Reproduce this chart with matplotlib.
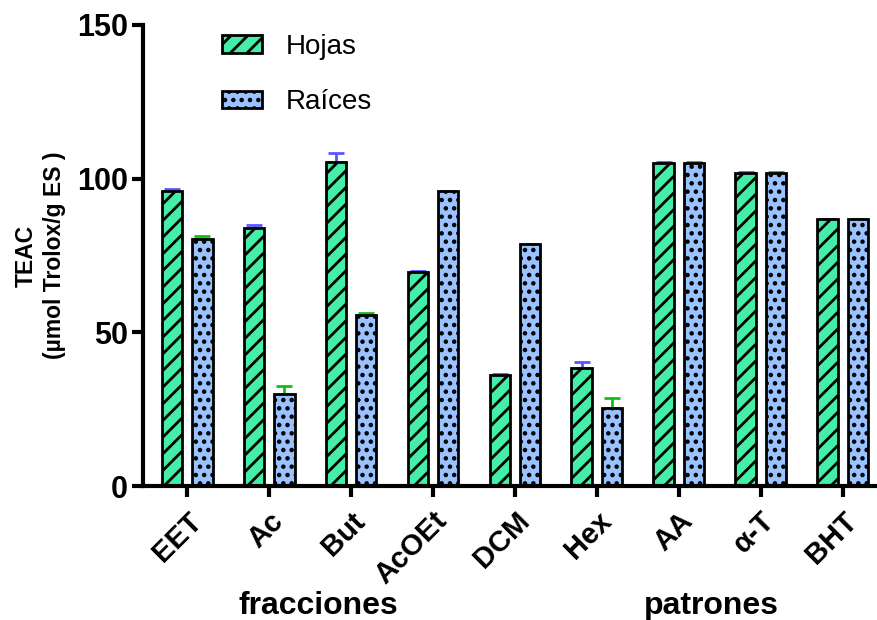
import matplotlib
matplotlib.use("Agg")
import matplotlib.pyplot as plt
import numpy as np

categories = ["EET", "Ac", "But", "AcOEt", "DCM", "Hex", "AA", "α-T", "BHT"]
hojas = [96.0, 84.0, 105.5, 69.5, 36.0, 38.5, 105.0, 101.8, 87.0]
hojas_err = [0.5, 1.0, 3.0, 0.5, 0.4, 1.8, 0.4, 0.4, 0.0]
raices = [80.5, 30.0, 55.6, 96.0, 78.8, 25.5, 105.0, 101.8, 87.0]
raices_err = [1.0, 2.5, 0.6, 0.0, 0.0, 3.0, 0.4, 0.4, 0.0]
group_labels = ["fracciones", "patrones"]

plt.rcParams['font.family'] = ['Liberation Sans', 'DejaVu Sans']
plt.rcParams['hatch.linewidth'] = 2.0

fig = plt.figure(figsize=(8.77, 6.2), dpi=100)
ax = fig.add_axes([143/877, (620-486)/620, 1 - 143/877, (486-25)/620])

x = np.arange(len(categories))
w = 0.25
off = 0.185
ax.bar(x - off, hojas, w, color='#44eea6', edgecolor='black', linewidth=2,
       hatch='//', label='Hojas', zorder=2)
ax.bar(x + off, raices, w, color='#99c2ff', edgecolor='black', linewidth=2,
       hatch='..', label='Raíces', zorder=2)
ax.errorbar(x - off, hojas, yerr=[np.zeros(len(hojas)), hojas_err], fmt='none',
            ecolor='#5858ff', elinewidth=2, capsize=5.5, capthick=2, zorder=1)
ax.errorbar(x + off, raices, yerr=[np.zeros(len(raices)), raices_err], fmt='none',
            ecolor='#10c010', elinewidth=2, capsize=5.5, capthick=2, zorder=1)

ax.set_xlim(-0.54, 8.42)
ax.set_ylim(0, 150)
ax.set_yticks([0, 50, 100, 150])
ax.set_xticks(x)
ax.set_xticklabels(categories, rotation=45, ha='right', rotation_mode='anchor',
                   fontsize=21, fontweight='bold')
for lbl in ax.get_yticklabels():
    lbl.set_fontsize(22)
    lbl.set_fontweight('bold')
ax.tick_params(axis='both', width=3, length=8, direction='out')
ax.tick_params(axis='x', pad=7)
ax.tick_params(axis='y', pad=3)
for s in ['top', 'right']:
    ax.spines[s].set_visible(False)
for s in ['left', 'bottom']:
    ax.spines[s].set_linewidth(3)

ax.set_ylabel("TEAC\n(µmol Trolox/g ES )", fontsize=16.5, fontweight='bold',
              labelpad=8, linespacing=1.25)

fig.text(318/877, 1 - 606/620, group_labels[0], ha='center', va='center',
         fontsize=23, fontweight='bold')
fig.text(711/877, 1 - 606/620, group_labels[1], ha='center', va='center',
         fontsize=23, fontweight='bold')

ax.legend(loc='upper left', bbox_to_anchor=(222/877, 1 - 34/620),
          bbox_transform=fig.transFigure, frameon=False, fontsize=20,
          handlelength=1.45, handleheight=0.6, handletextpad=0.85,
          labelspacing=1.05, borderpad=0, borderaxespad=0)

fig.savefig("out.png", dpi=100)
